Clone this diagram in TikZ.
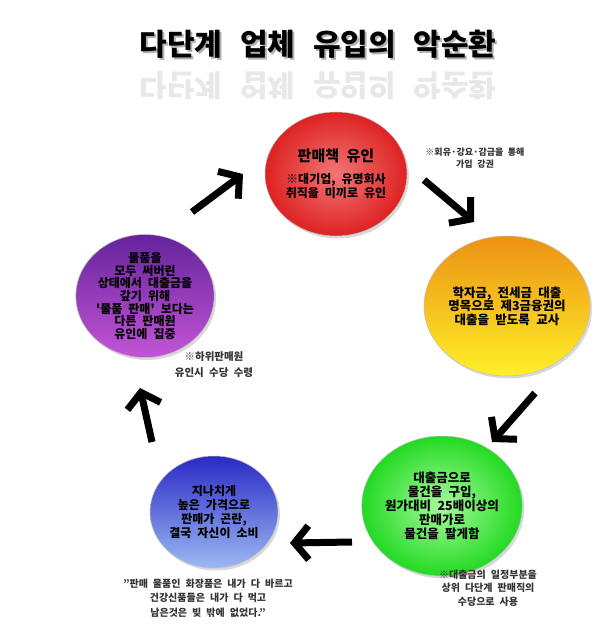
\documentclass[tikz,border=0pt]{standalone}
\usepackage{fontspec}
\setmainfont{Noto Sans CJK KR}[WordSpace=2.2]
\newfontfamily\titlefont[WordSpace=2.6]{Noto Sans CJK KR}
\usetikzlibrary{arrows.meta,shadows,shapes.geometric}

\definecolor{hongIn}{RGB}{242,118,118}
\definecolor{hongOut}{RGB}{222,34,34}
\definecolor{noTop}{RGB}{236,145,20}
\definecolor{noBot}{RGB}{255,240,40}
\definecolor{chIn}{RGB}{165,250,155}
\definecolor{chOut}{RGB}{35,218,35}
\definecolor{paTop}{RGB}{42,42,195}
\definecolor{paBot}{RGB}{155,185,245}
\definecolor{boTop}{RGB}{100,35,155}
\definecolor{boBot}{RGB}{195,85,215}

\begin{document}
\begin{tikzpicture}[x=1pt, y=-1pt, line join=round,
	font=\bfseries\fontsize{12}{14}\selectfont,
	stage/.style 2 args={ellipse, minimum width=#1, minimum height=#2, align=center, inner sep=0pt,
		draw=black!25, line width=0.5pt,
		drop shadow={shadow xshift=2pt, shadow yshift=-2.5pt, opacity=0.3}},
	titletext/.style={font=\titlefont\bfseries\fontsize{30}{32}\selectfont},
	note/.style={align=center, text=black!80},
	bigarrow/.style={line width=7pt, -{Straight Barb[length=14pt, width=34pt]}}]
	\useasboundingbox (0,0) rectangle (600,636);

	% 제목 (그림자, 글자, 반사)
	\node[titletext, text=black!30] (jemokgrim) at (320,46) {다단계 업체 유입의 악순환};
	\node[titletext] (jemok) at (318,44) {다단계 업체 유입의 악순환};
	\node[titletext, text=black!9, yscale=-1] (jemokban) at (318,86) {다단계 업체 유입의 악순환};

	% 다섯 단계
	\node[stage={125pt}{124pt}, inner color=hongIn, outer color=hongOut] (yuin) at (336,174)
		{{\fontsize{15}{17}\selectfont 판매책 유인}\\[8pt] ※대기업, 유명회사\\취직을 미끼로 유인};
	\node[stage={158pt}{140pt}, top color=noTop, bottom color=noBot, font=\bfseries\fontsize{12.5}{13.5}\selectfont] (daechul) at (507,306)
		{학자금, 전세금 대출\\명목으로 제3금융권의\\대출을 받도록 교사};
	\node[stage={152pt}{140pt}, inner color=chIn, outer color=chOut, font=\bfseries\fontsize{12.5}{14}\selectfont] (gumae) at (442,506)
		{대출금으로\\물건을 구입,\\원가대비 25배이상의\\판매가로\\물건을 팔게함};
	\node[stage={128pt}{112pt}, top color=paTop, bottom color=paBot] (sobi) at (214,512)
		{지나치게\\높은 가격으로\\판매가 곤란,\\결국 자신이 소비};
	\node[stage={125pt}{123pt}, top color=boTop, bottom color=boBot, font=\bfseries\fontsize{12}{12.6}\selectfont] (jipjung) at (145,296)
		{물품을\\모두 써버린\\상태에서 대출금을\\갚기 위해\\\textquotesingle 물품 판매\textquotesingle{} 보다는\\다른 판매원\\유인에 집중};

	% 설명 글
	\node[note, font=\bfseries\fontsize{9}{11.5}\selectfont] (gangyo) at (475,158) {※회유·강요·감금을 통해\\가입 강권};
	\node[note, font=\bfseries\fontsize{10.5}{16}\selectfont] (sudang) at (214,365) {※하위판매원\\유인시 수당 수령};
	\node[note, font=\bfseries\fontsize{10}{13.4}\selectfont] (sayong) at (488,588) {※대출금의 일정부분을\\상위 다단계 판매직의\\수당으로 사용};
	\node[note, font=\bfseries\fontsize{10}{14.5}\selectfont] (gobaek) at (208,598) {"판매 물품인 화장품은 내가 다 바르고\\건강신품들은 내가 다 먹고\\남은것은 빚 밖에 없었다."};

	% 화살표
	\coordinate (s1) at (192,212); \coordinate (e1) at (243,174);
	\coordinate (s2) at (424,180); \coordinate (e2) at (474,222);
	\coordinate (s3) at (535,393); \coordinate (e3) at (492,442);
	\coordinate (s4) at (352,542); \coordinate (e4) at (290,543);
	\coordinate (s5) at (152,442); \coordinate (e5) at (140,388);
	\foreach \i in {1,...,5} {
		\draw[bigarrow] (s\i) -- (e\i);
	}
\end{tikzpicture}
\end{document}
